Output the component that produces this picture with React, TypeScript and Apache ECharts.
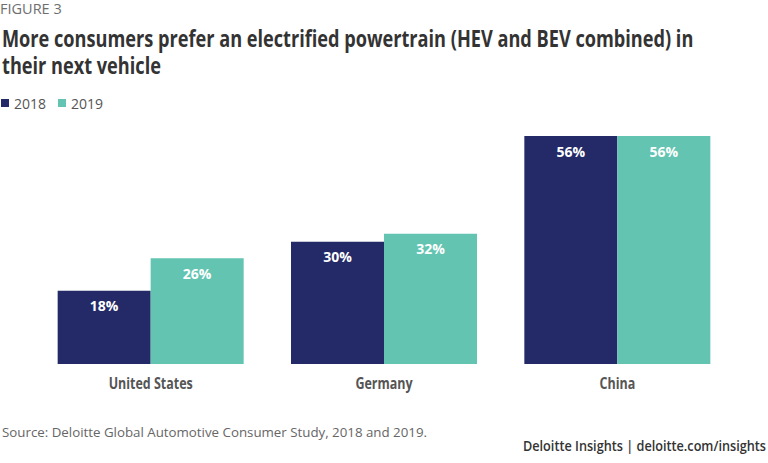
import React, { useEffect, useRef } from "react";
import * as echarts from "echarts";

const categories = ["United States", "Germany", "China"];
const values2018 = [18, 30, 56];
const values2019 = [26, 32, 56];
const seriesNames = ["2018", "2019"];

const SANS = "'Open Sans', 'Noto Sans', sans-serif";

export default function App() {
  const ref = useRef<HTMLDivElement>(null);
  useEffect(() => {
    if (!ref.current) return;
    const chart = echarts.init(ref.current, undefined, { renderer: "svg" });
    const label = {
      show: true,
      position: "insideTop",
      distance: 8,
      color: "#ffffff",
      fontFamily: SANS,
      fontWeight: "bold",
      fontSize: 14,
      formatter: "{c}%",
    };
    chart.setOption({
      animation: false,
      backgroundColor: "#ffffff",
      graphic: [
        { type: "text", x: 0, y: 1, style: { text: "FIGURE 3", fill: "#6e6e6e", font: `400 14.5px ${SANS}`, verticalAlign: "top" } },
        {
          type: "text",
          x: 2,
          y: 24,
          scaleX: 0.757,
          style: {
            text: "More consumers prefer an electrified powertrain (HEV and BEV combined) in\ntheir next vehicle",
            fill: "#333333",
            font: `bold 24px ${SANS}`,
            lineHeight: 27,
            verticalAlign: "top",
          },
        },
        { type: "text", x: 2, y: 425, style: { text: "Source: Deloitte Global Automotive Consumer Study, 2018 and 2019.", fill: "#666666", font: `400 13.3px ${SANS}`, verticalAlign: "top" } },
        { type: "text", x: 766, y: 439, scaleX: 0.94, style: { text: "Deloitte Insights | deloitte.com/insights", fill: "#333333", font: `600 13.5px ${SANS}`, align: "right", verticalAlign: "top" } },
      ],
      legend: {
        left: -4,
        top: 91,
        itemWidth: 8,
        itemHeight: 8,
        itemGap: 12,
        icon: "rect",
        textStyle: { color: "#555555", fontSize: 14, fontFamily: SANS },
        data: seriesNames,
      },
      grid: { left: 34, right: 34, top: 136, bottom: 99, containLabel: false },
      xAxis: {
        type: "category",
        data: categories,
        axisLine: { show: false },
        axisTick: { show: false },
        axisLabel: { show: false },
      },
      yAxis: {
        type: "value",
        min: 0,
        max: 56,
        show: false,
        splitLine: { show: false },
      },
      series: [
        { name: seriesNames[0], type: "bar", data: values2018, barWidth: 93, barGap: "0%", itemStyle: { color: "#232A67" }, label },
        { name: seriesNames[1], type: "bar", data: values2019, barWidth: 93, barGap: "0%", itemStyle: { color: "#62C4B1" }, label },
        {
          type: "custom",
          silent: true,
          data: categories.map((c, i) => [i, 0]),
          renderItem: (params: any, api: any) => {
            const pt = api.coord([api.value(0), 0]);
            return {
              type: "text",
              x: pt[0],
              y: pt[1] + 19,
              scaleX: 0.78,
              style: {
                text: categories[params.dataIndex],
                fill: "#555555",
                font: `bold 16px ${SANS}`,
                align: "center",
                verticalAlign: "middle",
              },
            };
          },
        },
      ],
    });
    return () => chart.dispose();
  }, []);
  return <div ref={ref} style={{ width: 768, height: 463, position: "absolute", left: 0, top: 0 }} />;
}
